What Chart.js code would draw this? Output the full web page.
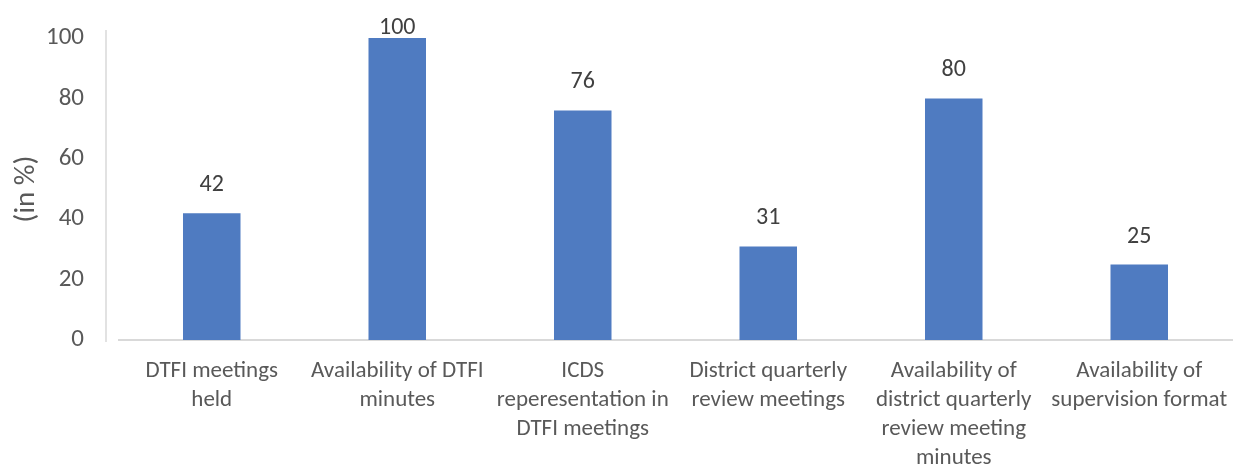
<!DOCTYPE html>
<html>
<head>
<meta charset="utf-8">
<script src="https://cdn.jsdelivr.net/npm/chart.js@4/dist/chart.umd.min.js"></script>
<style>
  html, body { margin: 0; padding: 0; background: #fff; }
  #wrap { width: 1236px; height: 465px; position: relative; }
</style>
</head>
<body>
<div id="wrap"><canvas id="chart"></canvas></div>
<script>
const categories = [
  ['DTFI meetings', 'held'],
  ['Availability of DTFI', 'minutes'],
  ['ICDS', 'reperesentation in', 'DTFI meetings'],
  ['District quarterly', 'review meetings'],
  ['Availability of', 'district quarterly', 'review meeting', 'minutes'],
  ['Availability of', 'supervision format']
];
const percentValues = [42, 100, 76, 31, 80, 25];
const yTicks = [0, 20, 40, 60, 80, 100];

const FONT = 'Carlito, Lato, "Open Sans", sans-serif';
const TEXT_COLOR = '#595959';

// value labels above each bar (kept inside the canvas like Excel does)
const barLabels = {
  id: 'barLabels',
  afterDatasetsDraw(chart) {
    const ctx = chart.ctx;
    const meta = chart.getDatasetMeta(0);
    ctx.save();
    ctx.font = '24px ' + FONT;
    ctx.fillStyle = '#404040';
    ctx.textAlign = 'center';
    ctx.textBaseline = 'middle';
    meta.data.forEach((bar, i) => {
      const y = Math.max(bar.y - 28, 28);
      ctx.fillText(String(percentValues[i]), bar.x, y);
    });
    ctx.restore();
  }
};

// y axis line sits a little left of the plot area
const yAxisLine = {
  id: 'yAxisLine',
  afterDraw(chart) {
    const { ctx, chartArea } = chart;
    ctx.save();
    ctx.strokeStyle = '#d9d9d9';
    ctx.lineWidth = 1.5;
    ctx.beginPath();
    ctx.moveTo(chartArea.left - 13, chartArea.top - 8);
    ctx.lineTo(chartArea.left - 13, chartArea.bottom + 2);
    ctx.stroke();
    ctx.restore();
  }
};

new Chart(document.getElementById('chart'), {
  type: 'bar',
  data: {
    labels: categories,
    datasets: [{
      data: percentValues,
      backgroundColor: '#4f7bc1',
      categoryPercentage: 1,
      barPercentage: 0.31
    }]
  },
  options: {
    responsive: true,
    maintainAspectRatio: false,
    animation: false,
    layout: { padding: { top: 38, right: 4, left: 0, bottom: 0 } },
    plugins: {
      legend: { display: false },
      tooltip: { enabled: false }
    },
    scales: {
      x: {
        grid: { display: false },
        border: { display: true, color: '#d9d9d9', width: 2 },
        ticks: {
          color: TEXT_COLOR,
          font: { family: FONT, size: 23, lineHeight: 1.26 },
          padding: 9,
          maxRotation: 0,
          autoSkip: false
        },
        afterFit(scale) {
          scale.height = 125;
          scale.paddingLeft = 0;
          scale.paddingRight = 0;
        }
      },
      y: {
        min: 0,
        max: 100,
        afterBuildTicks(scale) { scale.ticks = yTicks.map(v => ({ value: v })); },
        grid: { display: false },
        border: { display: false },
        ticks: {
          color: TEXT_COLOR,
          font: { family: FONT, size: 25 },
          padding: 27
        },
        title: {
          display: true,
          text: '(in %)',
          color: TEXT_COLOR,
          font: { family: FONT, size: 29 },
          padding: { top: 9, bottom: 0 }
        },
        afterFit(scale) {
          scale.width = 119;
          scale.paddingTop = 0;
          scale.paddingBottom = 0;
        }
      }
    }
  },
  plugins: [barLabels, yAxisLine]
});
</script>
</body>
</html>
